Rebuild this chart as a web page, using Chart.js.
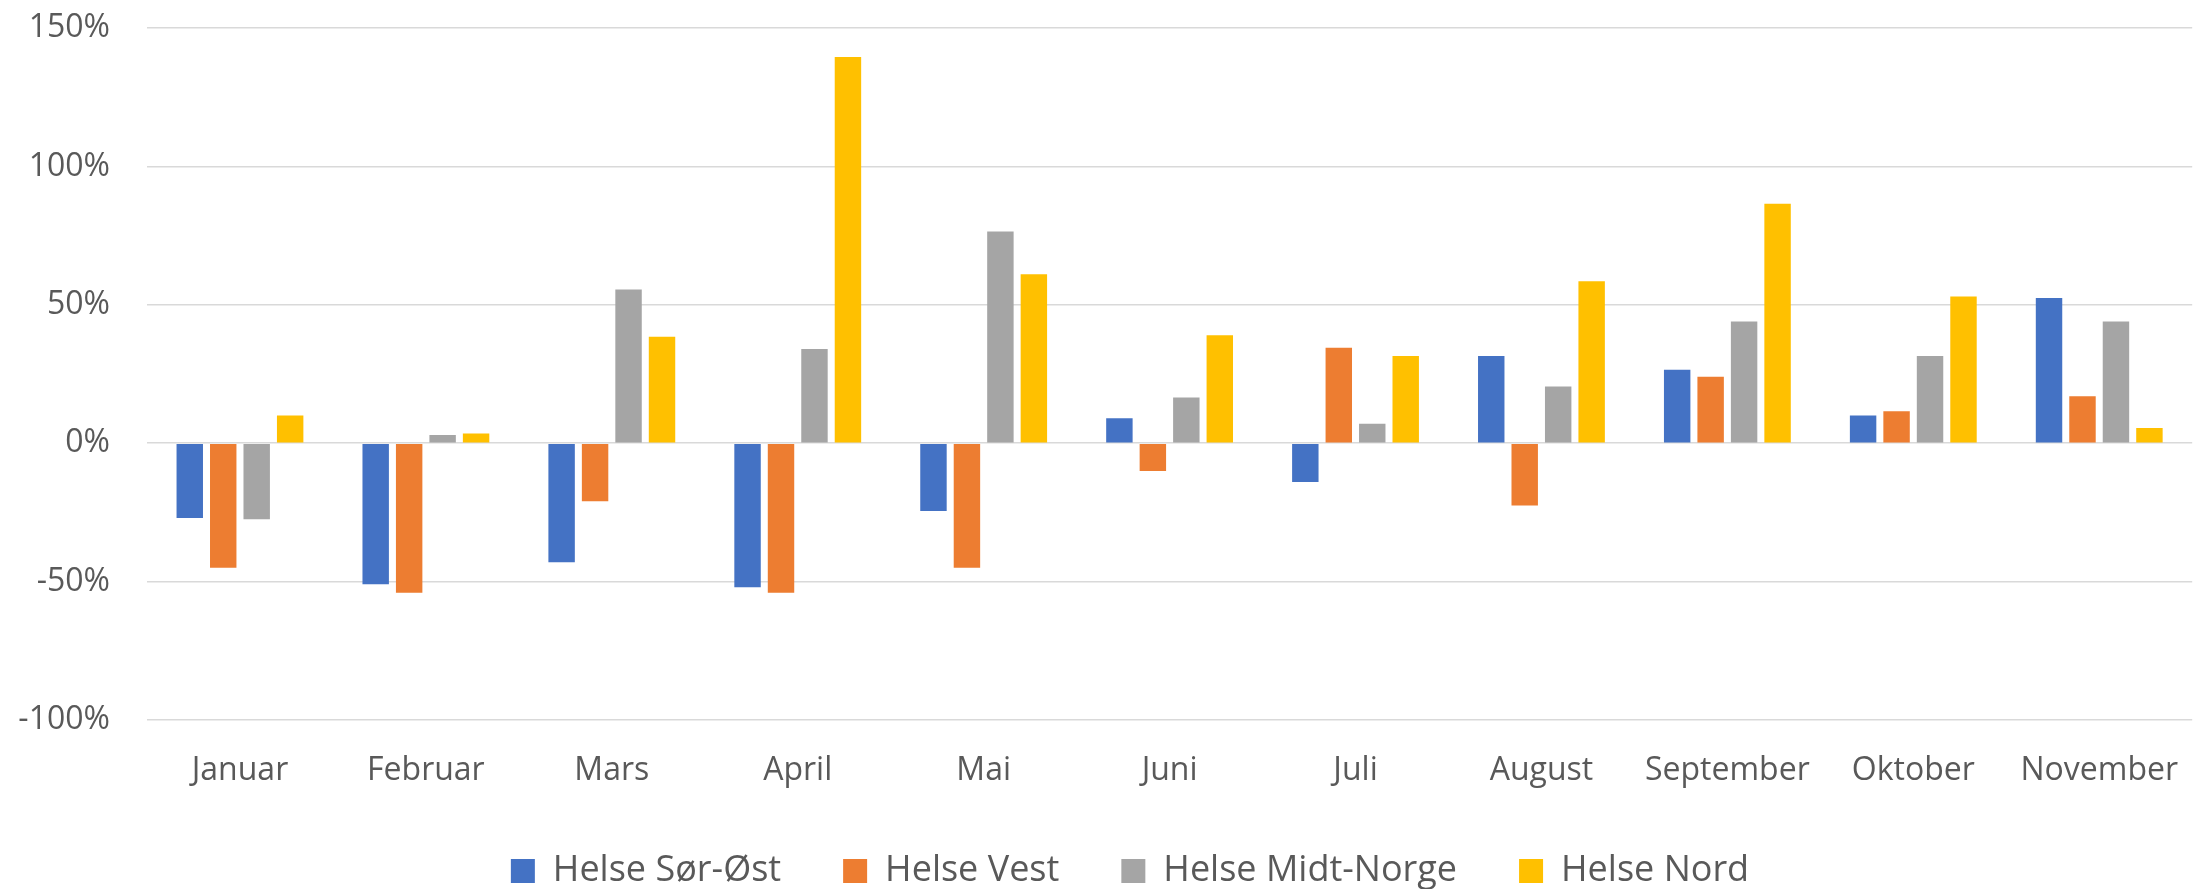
<!DOCTYPE html>
<html>
<head>
<meta charset="utf-8">
<script src="https://cdn.jsdelivr.net/npm/chart.js@4.4.1/dist/chart.umd.min.js"></script>
<style>
  html, body { margin: 0; padding: 0; background: #ffffff; overflow: hidden; }
  #wrap { width: 2196px; height: 889px; overflow: hidden; position: relative; }
  canvas { display: block; }
</style>
</head>
<body>
<div id="wrap"><canvas id="c" width="2210" height="899"></canvas></div>
<script>
const months = ["Januar", "Februar", "Mars", "April", "Mai", "Juni", "Juli", "August", "September", "Oktober", "November"];
const helseSorOst = [-27, -51, -43, -52, -24.5, 9, -14, 31.5, 26.5, 10, 52.5];
const helseVest = [-45, -54, -21, -54, -45, -10, 34.5, -22.5, 24, 11.5, 17];
const helseMidtNorge = [-27.5, 3, 55.5, 34, 76.5, 16.5, 7, 20.5, 44, 31.5, 44];
const helseNord = [10, 3.5, 38.5, 139.5, 61, 39, 31.5, 58.5, 86.5, 53, 5.5];
const yTicks = [-100, -50, 0, 50, 100, 150];

const FONT = "'Open Sans', 'DejaVu Sans', sans-serif";
const TEXT = "#595959";

const ds = (label, data, color) => ({
  label, data, backgroundColor: color, borderWidth: 0,
  categoryPercentage: 0.72, barPercentage: 0.79
});

const shiftLegend = {
  id: 'shiftLegend',
  afterLayout(chart) {
    const lg = chart.legend;
    if (lg) { lg.left += 25; lg.right += 25; }
  }
};

new Chart(document.getElementById('c'), {
  type: 'bar',
  data: {
    labels: months,
    datasets: [
      ds("Helse Sør-Øst", helseSorOst, "#4472C4"),
      ds("Helse Vest", helseVest, "#ED7D31"),
      ds("Helse Midt-Norge", helseMidtNorge, "#A5A5A5"),
      ds("Helse Nord", helseNord, "#FFC000")
    ]
  },
  plugins: [shiftLegend],
  options: {
    responsive: false,
    devicePixelRatio: 1,
    animation: false,
    events: [],
    layout: { padding: { top: 0, left: 0, right: 0, bottom: 0 } },
    plugins: {
      tooltip: { enabled: false },
      legend: {
        position: 'bottom',
        align: 'center',
        labels: {
          boxWidth: 24, boxHeight: 24, padding: 62,
          color: TEXT,
          font: { family: FONT, size: 36 }
        }
      }
    },
    scales: {
      x: {
        grid: { display: false, drawTicks: false },
        border: { display: false },
        ticks: { color: TEXT, font: { family: FONT, size: 32 }, padding: 32, maxRotation: 0, autoSkip: false },
        afterFit: (s) => { s.height = 71; }
      },
      y: {
        min: -100, max: 150,
        afterBuildTicks: (s) => { s.ticks = yTicks.map(v => ({ value: v })); },
        grid: { color: "#D9D9D9", lineWidth: 1.5, drawTicks: false },
        border: { display: false },
        ticks: { color: TEXT, font: { family: FONT, size: 32 }, padding: 37, callback: (v) => v + "%" },
        afterFit: (s) => { s.width = 147; s.paddingTop = 28; s.paddingBottom = 0; }
      }
    }
  }
});
</script>
</body>
</html>
